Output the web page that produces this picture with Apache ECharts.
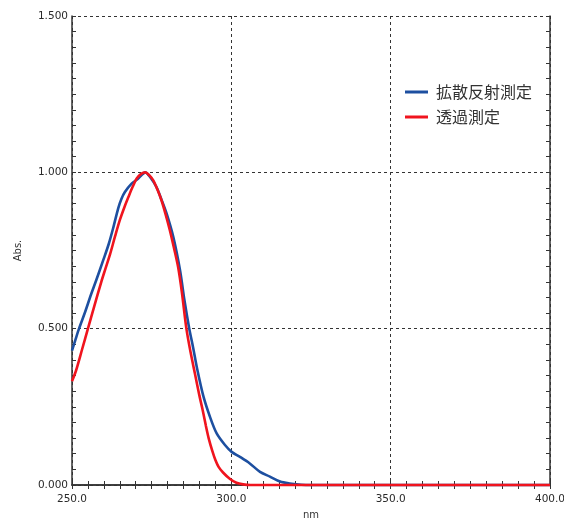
<!DOCTYPE html>
<html>
<head>
<meta charset="utf-8">
<script src="https://cdn.jsdelivr.net/npm/echarts@6/dist/echarts.min.js"></script>
<style>html,body{margin:0;padding:0;background:#fff}#c{width:564px;height:521px}</style>
</head>
<body>
<div id="c"></div>
<script>
const xTicks = [250, 300, 350, 400];
const yTicks = [0, 0.5, 1.0, 1.5];
const seriesNames = ['拡散反射測定', '透過測定'];

const diffuseNm = [250, 251, 252.2, 254, 256, 257.6, 259.8, 261.5, 263, 264.5, 265.5, 266.6, 268.7, 270.8, 272, 273, 274.5, 276.5, 278, 279.7, 281.8, 283.9, 285.3, 286.8, 288, 289.3, 291.2, 293.3, 295.4, 298, 300.1, 302.7, 305.8, 309, 312.1, 315.3, 318.3, 322, 330, 400];
const diffuseAbs = [0.43, 0.462, 0.5, 0.55, 0.61, 0.655, 0.719, 0.77, 0.825, 0.885, 0.915, 0.937, 0.964, 0.98, 0.993, 1.0, 0.985, 0.953, 0.915, 0.868, 0.793, 0.687, 0.59, 0.5, 0.44, 0.37, 0.285, 0.218, 0.165, 0.128, 0.106, 0.09, 0.069, 0.042, 0.027, 0.011, 0.005, 0.001, 0, 0];

const transNm = [250, 251.3, 253.2, 255, 257, 259.2, 260.5, 262, 263.5, 265, 266.5, 267.7, 269, 270.3, 271.7, 273, 274.3, 275.5, 276.8, 278.1, 279.4, 280.7, 282, 283.3, 284.5, 285.9, 287.2, 288.6, 290, 291, 292, 293, 294, 295, 296, 297.4, 299.5, 301.6, 303.7, 306, 400];
const transAbs = [0.332, 0.367, 0.435, 0.5, 0.572, 0.65, 0.692, 0.74, 0.795, 0.847, 0.89, 0.921, 0.953, 0.98, 0.995, 1.0, 0.99, 0.974, 0.945, 0.91, 0.865, 0.815, 0.758, 0.697, 0.615, 0.5, 0.425, 0.355, 0.285, 0.24, 0.19, 0.145, 0.11, 0.08, 0.058, 0.04, 0.02, 0.007, 0.002, 0, 0];

const zip = (a, b) => a.map((v, i) => [v, b[i]]);
const labelFont = { fontFamily: 'DejaVu Sans', fontSize: 10.5, color: '#2a2a2a' };
const axisLine = { show: true, lineStyle: { color: '#333', width: 1.5 } };
const tick = { show: true, inside: true, length: 4, lineStyle: { color: '#333', width: 1 } };
const minor = { show: true, splitNumber: 10, length: 4, lineStyle: { color: '#333', width: 1 } };
const split = { show: true, lineStyle: { color: '#333', type: [3, 3], width: 1 } };

const chart = echarts.init(document.getElementById('c'), null, { renderer: 'canvas' });
chart.setOption({
  animation: false,
  backgroundColor: '#fff',
  grid: { left: 72, right: 14, top: 16, bottom: 36, containLabel: false, outerBoundsMode: 'none' },
  legend: {
    data: seriesNames,
    orient: 'vertical',
    left: 405, top: 84, padding: 0,
    icon: 'rect', itemWidth: 23, itemHeight: 3, itemGap: 9,
    textStyle: { fontFamily: 'Noto Sans CJK JP', fontSize: 16, color: '#333', padding: [0, 0, 0, 3] }
  },
  xAxis: [
    { type: 'value', min: xTicks[0], max: xTicks[xTicks.length - 1], interval: 50, position: 'bottom',
      name: 'nm', nameLocation: 'middle', nameGap: 25,
      nameTextStyle: { fontFamily: 'DejaVu Sans', fontSize: 10, color: '#333' },
      axisLine, axisTick: tick, minorTick: minor, splitLine: split,
      axisLabel: Object.assign({ margin: 9, formatter: v => v.toFixed(1) }, labelFont) },
    { type: 'value', min: xTicks[0], max: xTicks[xTicks.length - 1], interval: 50, position: 'top',
      axisLine, axisTick: tick, minorTick: minor, splitLine: { show: false }, axisLabel: { show: false } }
  ],
  yAxis: [
    { type: 'value', min: yTicks[0], max: yTicks[yTicks.length - 1], interval: 0.5, position: 'left',
      name: 'Abs.', nameLocation: 'middle', nameGap: 49, nameRotate: 90,
      nameTextStyle: { fontFamily: 'DejaVu Sans', fontSize: 10, color: '#333' },
      axisLine, axisTick: tick, minorTick: minor, splitLine: split,
      axisLabel: Object.assign({ margin: 4, formatter: v => v.toFixed(3) }, labelFont) },
    { type: 'value', min: yTicks[0], max: yTicks[yTicks.length - 1], interval: 0.5, position: 'right',
      axisLine, axisTick: tick, minorTick: minor, splitLine: { show: false }, axisLabel: { show: false } }
  ],
  series: [
    { name: seriesNames[0], type: 'line', data: zip(diffuseNm, diffuseAbs), showSymbol: false, symbol: 'none',
      smooth: 0.3, clip: false, color: '#1d4fa0', lineStyle: { width: 2.6, color: '#1d4fa0' }, z: 3 },
    { name: seriesNames[1], type: 'line', data: zip(transNm, transAbs), showSymbol: false, symbol: 'none',
      smooth: 0.3, clip: false, color: '#f0141e', lineStyle: { width: 2.6, color: '#f0141e' }, z: 4 }
  ]
});
</script>
</body>
</html>
